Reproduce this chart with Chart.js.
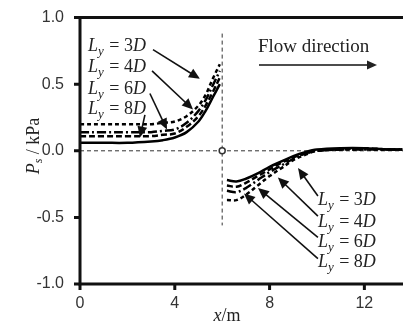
<!DOCTYPE html>
<html>
<head>
<meta charset="utf-8">
<script src="https://cdn.jsdelivr.net/npm/chart.js@4/dist/chart.umd.min.js"></script>
<style>
  html, body { margin: 0; padding: 0; background: #fff; }
  #wrap { width: 403px; height: 327px; }
</style>
</head>
<body>
<div id="wrap"><canvas id="canvas" width="403" height="327"></canvas></div>
<script>
// DATA - upstream side (x < 6 m)
var upX    = [0, 1, 2, 3, 3.5, 4, 4.5, 5, 5.3, 5.6, 5.9];
var up3D   = [0.20, 0.20, 0.20, 0.20, 0.21, 0.22, 0.26, 0.34, 0.42, 0.54, 0.65];
var up4D   = [0.14, 0.14, 0.14, 0.14, 0.15, 0.16, 0.21, 0.30, 0.38, 0.49, 0.60];
var up6D   = [0.11, 0.11, 0.11, 0.11, 0.12, 0.13, 0.18, 0.26, 0.34, 0.44, 0.55];
var up8D   = [0.06, 0.06, 0.06, 0.07, 0.08, 0.10, 0.14, 0.22, 0.30, 0.40, 0.50];
// DATA - downstream side (x > 6 m)
var downX  = [6.2, 6.6, 7, 7.5, 8, 8.5, 9, 9.5, 10, 11, 12, 13, 13.6];
var down3D = [-0.37, -0.37, -0.33, -0.26, -0.19, -0.13, -0.07, -0.03, 0.00, 0.01, 0.01, 0.01, 0.01];
var down4D = [-0.30, -0.31, -0.28, -0.22, -0.16, -0.11, -0.06, -0.02, 0.00, 0.01, 0.01, 0.01, 0.01];
var down6D = [-0.26, -0.27, -0.24, -0.19, -0.14, -0.09, -0.05, -0.02, 0.00, 0.01, 0.02, 0.01, 0.01];
var down8D = [-0.22, -0.23, -0.21, -0.17, -0.12, -0.08, -0.04, -0.01, 0.01, 0.02, 0.02, 0.01, 0.01];
// ticks
var xTicks = [0, 4, 8, 12];
var yTicks = [-1.0, -0.5, 0.0, 0.5, 1.0];
var seriesNames = ['3D', '4D', '6D', '8D'];

function pts(xs, ys) {
  return xs.map(function (x, i) { return {x: x, y: ys[i]}; });
}

var dashes = {'3D': [4, 3], '4D': [9, 3, 2, 3], '6D': [6, 3], '8D': []};
var upData   = {'3D': up3D, '4D': up4D, '6D': up6D, '8D': up8D};
var downData = {'3D': down3D, '4D': down4D, '6D': down6D, '8D': down8D};

var datasets = [];
seriesNames.forEach(function (n) {
  datasets.push({label: 'Ly=' + n + ' up', data: pts(upX, upData[n]),
    borderColor: '#000', borderWidth: 2.5, borderDash: dashes[n], pointRadius: 0, tension: 0.35, fill: false});
  datasets.push({label: 'Ly=' + n + ' down', data: pts(downX, downData[n]),
    borderColor: '#000', borderWidth: 2.5, borderDash: dashes[n], pointRadius: 0, tension: 0.35, fill: false});
});

// annotation positions in data units (arrow tail -> head)
var leftLabels  = [{t: '3D', x: 0.34, y: 0.75}, {t: '4D', x: 0.34, y: 0.59}, {t: '6D', x: 0.34, y: 0.43}, {t: '8D', x: 0.34, y: 0.28}];
var leftArrows  = [[3.08, 0.76, 5.06, 0.54], [3.04, 0.60, 4.77, 0.31], [2.95, 0.43, 3.67, 0.16], [2.74, 0.27, 2.53, 0.10]];
var rightLabels = [{t: '3D', x: 10.04, y: -0.41}, {t: '4D', x: 10.04, y: -0.57}, {t: '6D', x: 10.04, y: -0.72}, {t: '8D', x: 10.04, y: -0.87}];
var rightArrows = [[10.04, -0.34, 9.2, -0.13], [10.04, -0.49, 8.35, -0.20], [10.04, -0.65, 7.51, -0.28], [10.04, -0.81, 6.92, -0.32]];

function arrow(ctx, x1, y1, x2, y2, head) {
  var a = Math.atan2(y2 - y1, x2 - x1);
  ctx.beginPath();
  ctx.moveTo(x1, y1);
  ctx.lineTo(x2 - Math.cos(a) * head * 0.8, y2 - Math.sin(a) * head * 0.8);
  ctx.stroke();
  ctx.beginPath();
  ctx.moveTo(x2, y2);
  ctx.lineTo(x2 - head * Math.cos(a) + head * 0.45 * Math.sin(a), y2 - head * Math.sin(a) - head * 0.45 * Math.cos(a));
  ctx.lineTo(x2 - head * Math.cos(a) - head * 0.45 * Math.sin(a), y2 - head * Math.sin(a) + head * 0.45 * Math.cos(a));
  ctx.closePath();
  ctx.fill();
}

function lyLabel(ctx, x, y, t) {
  ctx.textBaseline = 'alphabetic';
  ctx.textAlign = 'left';
  ctx.font = 'italic 18px "Liberation Serif"';
  ctx.fillText('L', x, y);
  x += ctx.measureText('L').width;
  ctx.font = 'italic 13px "Liberation Serif"';
  ctx.fillText('y', x, y + 4);
  x += ctx.measureText('y').width + 1;
  ctx.font = '18px "Liberation Serif"';
  var s = ' = ' + t.charAt(0);
  ctx.fillText(s, x, y);
  x += ctx.measureText(s).width;
  ctx.font = 'italic 18px "Liberation Serif"';
  ctx.fillText('D', x, y);
}

var decor = {
  id: 'decor',
  beforeDatasetsDraw: function (chart) {
    var ctx = chart.ctx, xs = chart.scales.x, ys = chart.scales.y, a = chart.chartArea;
    ctx.save();
    ctx.strokeStyle = '#333';
    ctx.lineWidth = 1;
    ctx.setLineDash([4, 3]);
    ctx.beginPath();
    ctx.moveTo(a.left, ys.getPixelForValue(0));
    ctx.lineTo(a.right, ys.getPixelForValue(0));
    ctx.moveTo(xs.getPixelForValue(6), ys.getPixelForValue(0.88));
    ctx.lineTo(xs.getPixelForValue(6), ys.getPixelForValue(-0.56));
    ctx.stroke();
    ctx.setLineDash([]);
    ctx.lineWidth = 1.5;
    ctx.beginPath();
    ctx.arc(xs.getPixelForValue(6), ys.getPixelForValue(0), 3, 0, Math.PI * 2);
    ctx.fillStyle = '#fff';
    ctx.fill();
    ctx.stroke();
    ctx.restore();
  },
  afterDatasetsDraw: function (chart) {
    var ctx = chart.ctx, xs = chart.scales.x, ys = chart.scales.y, a = chart.chartArea;
    ctx.save();
    ctx.fillStyle = '#111';
    ctx.strokeStyle = '#111';
    // frame: left, bottom, top
    ctx.lineWidth = 3;
    ctx.beginPath();
    ctx.moveTo(a.right, a.top);
    ctx.lineTo(a.left, a.top);
    ctx.lineTo(a.left, a.bottom);
    ctx.lineTo(a.right, a.bottom);
    ctx.stroke();
    // annotations
    ctx.lineWidth = 1.6;
    leftArrows.concat(rightArrows).forEach(function (r) {
      arrow(ctx, xs.getPixelForValue(r[0]), ys.getPixelForValue(r[1]), xs.getPixelForValue(r[2]), ys.getPixelForValue(r[3]), 11);
    });
    ctx.fillStyle = '#222';
    leftLabels.concat(rightLabels).forEach(function (l) {
      lyLabel(ctx, xs.getPixelForValue(l.x), ys.getPixelForValue(l.y), l.t);
    });
    // flow direction
    ctx.font = '19px "Liberation Serif"';
    ctx.textAlign = 'left';
    ctx.fillText('Flow direction', 258, 52);
    ctx.lineWidth = 1.5;
    arrow(ctx, 259, 65, 377, 65, 10);
    // axis titles
    ctx.font = 'italic 18px "Liberation Serif"';
    var w1 = ctx.measureText('x').width;
    ctx.font = '18px "Liberation Serif"';
    var w2 = ctx.measureText('/m').width;
    var sx = 227 - (w1 + w2) / 2;
    ctx.font = 'italic 18px "Liberation Serif"';
    ctx.fillText('x', sx, 321);
    ctx.font = '18px "Liberation Serif"';
    ctx.fillText('/m', sx + w1, 321);
    ctx.translate(39, 146);
    ctx.rotate(-Math.PI / 2);
    ctx.font = 'italic 18px "Liberation Serif"';
    var pw = ctx.measureText('P').width;
    ctx.font = 'italic 12px "Liberation Serif"';
    var sw = ctx.measureText('s').width;
    ctx.font = '18px "Liberation Serif"';
    var kw = ctx.measureText(' / kPa').width;
    var x0 = -(pw + sw + kw) / 2;
    ctx.font = 'italic 18px "Liberation Serif"';
    ctx.fillText('P', x0, 0);
    ctx.font = 'italic 12px "Liberation Serif"';
    ctx.fillText('s', x0 + pw, 3);
    ctx.font = '18px "Liberation Serif"';
    ctx.fillText(' / kPa', x0 + pw + sw, 0);
    ctx.restore();
  }
};

var ctx = document.getElementById('canvas').getContext('2d');
var chart = new Chart(ctx, {
  type: 'line',
  data: {datasets: datasets},
  options: {
    responsive: false,
    animation: false,
    layout: {padding: {top: 16, right: 0, left: 0, bottom: 0}},
    plugins: {legend: {display: false}, tooltip: {enabled: false}},
    scales: {
      x: {
        type: 'linear', min: 0, max: 13.63,
        afterBuildTicks: function (s) { s.ticks = xTicks.map(function (v) { return {value: v}; }); },
        afterFit: function (s) { s.height = 43; },
        grid: {display: false, drawTicks: true},
        border: {display: false},
        ticks: {color: '#333', font: {family: '"Liberation Sans"', size: 16}, padding: 2,
          callback: function (v) { return String(v); }}
      },
      y: {
        type: 'linear', min: -1, max: 1,
        afterBuildTicks: function (s) { s.ticks = yTicks.map(function (v) { return {value: v}; }); },
        afterFit: function (s) { s.width = 80; },
        grid: {display: false},
        border: {display: false},
        ticks: {color: '#333', font: {family: '"Liberation Sans"', size: 16}, padding: 8,
          callback: function (v) { return v.toFixed(1); }}
      }
    }
  },
  plugins: [decor, {
    id: 'tickmarks',
    afterDraw: function (chart) {
      var c = chart.ctx, xs = chart.scales.x, ys = chart.scales.y, a = chart.chartArea;
      c.save();
      c.strokeStyle = '#111';
      c.lineWidth = 3;
      c.beginPath();
      xTicks.forEach(function (v) { var p = xs.getPixelForValue(v); c.moveTo(p, a.bottom); c.lineTo(p, a.bottom + 6); });
      yTicks.forEach(function (v) { var p = ys.getPixelForValue(v); c.moveTo(a.left, p); c.lineTo(a.left - 6, p); });
      c.stroke();
      c.restore();
    }
  }]
});
</script>
</body>
</html>
